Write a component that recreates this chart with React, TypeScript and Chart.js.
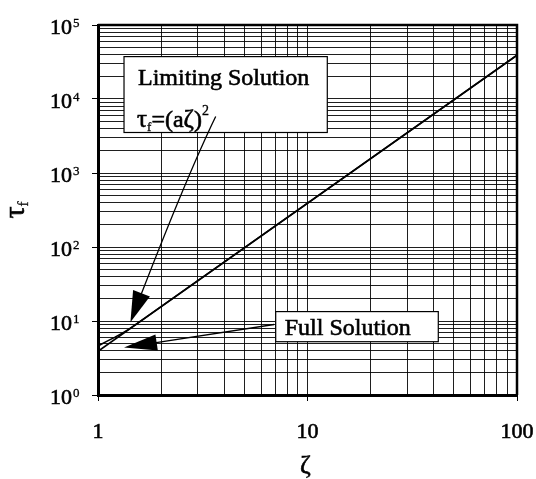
import React, { useEffect, useRef } from "react";
import { Chart, registerables } from "chart.js";

Chart.register(...registerables);

// ---- data ----
const limitingZeta = [1, 100];
const limitingTau = [3.9, 39000];
const fullZeta = [1, 1.1, 1.2, 1.3, 1.4, 1.5, 100];
const fullTau = [4.6, 5.3, 6.0, 6.8, 7.7, 8.8, 39000];

const xTickValues = [1, 10, 100];
const xTickLabels = ["1", "10", "100"];
const yTickExponents = [0, 1, 2, 3, 4, 5];
const minorMultipliers = [1, 2, 3, 4, 5, 6, 7, 8, 9];

const xTitle = "ζ";
const yTitleMain = "τ";
const yTitleSub = "f";
const limitingLabel = "Limiting Solution";
const fullLabel = "Full Solution";

// annotation anchors in data coordinates (ζ, τ)
const limitingBoxCorners = [[1.331, 37400], [12.43, 3527]];
const limitingArrowPath = [[3.646, 5800], [2.6, 804], [1.428, 9.63]];
const fullBoxCorners = [[7.05, 13.4], [42.1, 5.25]];
const fullArrowPath = [[6.92, 8.97], [1.331, 4.38]];

const SERIF = '"Liberation Serif", "Times New Roman", serif';

function gridValues(minExp: number, maxExp: number) {
  const out: number[] = [];
  for (let e = minExp; e < maxExp; e++) {
    for (const m of minorMultipliers) out.push(m * Math.pow(10, e));
  }
  out.push(Math.pow(10, maxExp));
  return out;
}

function isPow10(v: number) {
  const l = Math.log10(v);
  return Math.abs(l - Math.round(l)) < 1e-9;
}

function boldText(ctx: CanvasRenderingContext2D, s: string, x: number, y: number, w = 0.6) {
  ctx.fillText(s, x, y);
  ctx.save();
  ctx.lineWidth = w;
  ctx.strokeStyle = "#000";
  ctx.strokeText(s, x, y);
  ctx.restore();
}

type Part = { text: string; size: number; dy: number };

function drawRich(ctx: CanvasRenderingContext2D, x: number, y: number, parts: Part[]) {
  let cx = x;
  for (const p of parts) {
    ctx.font = `${p.size}px ${SERIF}`;
    boldText(ctx, p.text, cx, y + p.dy, p.size > 18 ? 0.6 : 0.3);
    cx += ctx.measureText(p.text).width;
  }
  return cx - x;
}

function richWidth(ctx: CanvasRenderingContext2D, parts: Part[]) {
  let w = 0;
  for (const p of parts) {
    ctx.font = `${p.size}px ${SERIF}`;
    w += ctx.measureText(p.text).width;
  }
  return w;
}

function arrowHead(ctx: CanvasRenderingContext2D, tipX: number, tipY: number, fromX: number, fromY: number, len: number, half: number) {
  const ang = Math.atan2(tipY - fromY, tipX - fromX);
  const bx = tipX - len * Math.cos(ang);
  const by = tipY - len * Math.sin(ang);
  const px = -Math.sin(ang) * half;
  const py = Math.cos(ang) * half;
  ctx.beginPath();
  ctx.moveTo(tipX, tipY);
  ctx.lineTo(bx + px, by + py);
  ctx.lineTo(bx - px, by - py);
  ctx.closePath();
  ctx.fill();
}

const decorPlugin = {
  id: "decor",
  afterDraw(chart: any) {
    const ctx: CanvasRenderingContext2D = chart.ctx;
    const xs = chart.scales.x;
    const ys = chart.scales.y;
    const a = chart.chartArea;
    const px = (v: number) => xs.getPixelForValue(v);
    const py = (v: number) => ys.getPixelForValue(v);

    ctx.save();
    // frame top and right
    ctx.strokeStyle = "#000";
    ctx.lineWidth = 2.5;
    ctx.beginPath();
    ctx.moveTo(a.left, a.top);
    ctx.lineTo(a.right, a.top);
    ctx.lineTo(a.right, a.bottom);
    ctx.stroke();

    ctx.fillStyle = "#000";
    ctx.textBaseline = "alphabetic";

    // x tick labels
    ctx.textAlign = "center";
    ctx.font = `22px ${SERIF}`;
    xTickValues.forEach((v, i) => {
      boldText(ctx, xTickLabels[i], px(v), a.bottom + 43);
    });

    // y tick labels 10^n
    yTickExponents.forEach((e) => {
      const y = py(Math.pow(10, e));
      ctx.textAlign = "right";
      ctx.font = `22px ${SERIF}`;
      boldText(ctx, "10", a.left - 26, y + 8.5);
      ctx.textAlign = "left";
      ctx.font = `13px ${SERIF}`;
      boldText(ctx, String(e), a.left - 25, y + 1.5, 0.3);
    });

    // x title
    ctx.textAlign = "center";
    ctx.font = `26px ${SERIF}`;
    boldText(ctx, xTitle, (a.left + a.right) / 2 - 2, 473);

    // y title (rotated)
    ctx.save();
    ctx.translate(17, (a.top + a.bottom) / 2);
    ctx.rotate(-Math.PI / 2);
    ctx.textAlign = "left";
    const tParts: Part[] = [
      { text: yTitleMain, size: 30, dy: 0 },
      { text: yTitleSub, size: 15, dy: 4 },
    ];
    const tw = richWidth(ctx, tParts);
    drawRich(ctx, -tw / 2, 7, tParts);
    ctx.restore();

    // limiting solution box
    const lb = limitingBoxCorners;
    const lx0 = px(lb[0][0]), ly0 = py(lb[0][1]), lx1 = px(lb[1][0]), ly1 = py(lb[1][1]);
    ctx.fillStyle = "#fff";
    ctx.fillRect(lx0, ly0, lx1 - lx0, ly1 - ly0);
    ctx.strokeStyle = "#000";
    ctx.lineWidth = 1.2;
    ctx.strokeRect(lx0, ly0, lx1 - lx0, ly1 - ly0);
    ctx.fillStyle = "#000";
    ctx.textAlign = "left";
    ctx.font = `24px ${SERIF}`;
    boldText(ctx, limitingLabel, lx0 + 14, ly0 + 28.5);
    drawRich(ctx, lx0 + 13, ly0 + 70, [
      { text: "τ", size: 25, dy: 0 },
      { text: "f", size: 13, dy: 4 },
      { text: "=(a", size: 24, dy: 0 },
      { text: "ζ", size: 25, dy: 0 },
      { text: ")", size: 24, dy: 0 },
      { text: "2", size: 14, dy: -12 },
    ]);

    // limiting arrow (curved)
    const [s, c, t] = limitingArrowPath;
    const sx = px(s[0]), sy = py(s[1]);
    const cx = px(c[0]), cy = py(c[1]);
    const tx = px(t[0]), ty = py(t[1]);
    ctx.strokeStyle = "#000";
    ctx.lineWidth = 1.3;
    ctx.beginPath();
    ctx.moveTo(sx, sy);
    const bt = 0.9;
    const qx = (1 - bt) * (1 - bt) * sx + 2 * (1 - bt) * bt * cx + bt * bt * tx;
    const qy = (1 - bt) * (1 - bt) * sy + 2 * (1 - bt) * bt * cy + bt * bt * ty;
    ctx.quadraticCurveTo((1 - bt) * sx + bt * cx, (1 - bt) * sy + bt * cy, qx, qy);
    ctx.stroke();
    arrowHead(ctx, tx, ty, cx, cy, 31, 9);

    // full solution box
    const fb = fullBoxCorners;
    const fx0 = px(fb[0][0]), fy0 = py(fb[0][1]), fx1 = px(fb[1][0]), fy1 = py(fb[1][1]);
    ctx.fillStyle = "#fff";
    ctx.fillRect(fx0, fy0, fx1 - fx0, fy1 - fy0);
    ctx.lineWidth = 1.2;
    ctx.strokeRect(fx0, fy0, fx1 - fx0, fy1 - fy0);
    ctx.fillStyle = "#000";
    ctx.font = `24px ${SERIF}`;
    boldText(ctx, fullLabel, fx0 + 9, fy0 + 23.5);

    // full arrow (straight)
    const [fs, ft] = fullArrowPath;
    const fsx = px(fs[0]), fsy = py(fs[1]);
    const ftx = px(ft[0]), fty = py(ft[1]);
    ctx.lineWidth = 1.3;
    ctx.beginPath();
    ctx.moveTo(fsx, fsy);
    ctx.lineTo(ftx + (fsx - ftx) * 0.15, fty + (fsy - fty) * 0.15);
    ctx.stroke();
    arrowHead(ctx, ftx, fty, fsx, fsy, 33, 8);

    ctx.restore();
  },
};

export default function App() {
  const ref = useRef<HTMLCanvasElement | null>(null);

  useEffect(() => {
    if (!ref.current) return;
    const xGrid = gridValues(0, 2);
    const yGrid = gridValues(0, 5);
    const chart = new Chart(ref.current, {
      type: "scatter",
      data: {
        datasets: [
          {
            label: limitingLabel,
            data: limitingZeta.map((x, i) => ({ x, y: limitingTau[i] })),
            showLine: true,
            borderColor: "#000",
            borderWidth: 1.6,
            pointRadius: 0,
          },
          {
            label: fullLabel,
            data: fullZeta.map((x, i) => ({ x, y: fullTau[i] })),
            showLine: true,
            borderColor: "#000",
            borderWidth: 1.6,
            pointRadius: 0,
          },
        ],
      },
      options: {
        responsive: false,
        animation: false,
        devicePixelRatio: 1,
        layout: { padding: { left: 92, top: 25, right: 19, bottom: 78 } },
        plugins: {
          legend: { display: false },
          tooltip: { enabled: false },
        },
        scales: {
          x: {
            type: "logarithmic",
            min: 1,
            max: 100,
            afterBuildTicks: (scale: any) => {
              scale.ticks = xGrid.map((v) => ({ value: v, major: isPow10(v) }));
            },
            ticks: { display: false, autoSkip: false },
            grid: {
              color: "rgba(0,0,0,0.88)",
              lineWidth: 1,
              drawTicks: true,
              tickLength: 6,
              tickColor: (c: any) => (c.tick && isPow10(c.tick.value) ? "#000" : "rgba(0,0,0,0)"),
            },
            border: { display: true, color: "#000", width: 3 },
          },
          y: {
            type: "logarithmic",
            min: 1,
            max: 100000,
            afterBuildTicks: (scale: any) => {
              scale.ticks = yGrid.map((v) => ({ value: v, major: isPow10(v) }));
            },
            ticks: { display: false, autoSkip: false },
            grid: {
              color: "rgba(0,0,0,0.88)",
              lineWidth: 1,
              drawTicks: true,
              tickLength: 6,
              tickColor: (c: any) => (c.tick && isPow10(c.tick.value) ? "#000" : "rgba(0,0,0,0)"),
            },
            border: { display: true, color: "#000", width: 3 },
          },
        },
      },
      plugins: [decorPlugin],
    });
    return () => chart.destroy();
  }, []);

  return (
    <div style={{ position: "fixed", left: 0, top: 0, width: 536, height: 479, background: "#fff" }}>
      <canvas ref={ref} width={536} height={479} style={{ display: "block", width: 536, height: 479 }} />
    </div>
  );
}
